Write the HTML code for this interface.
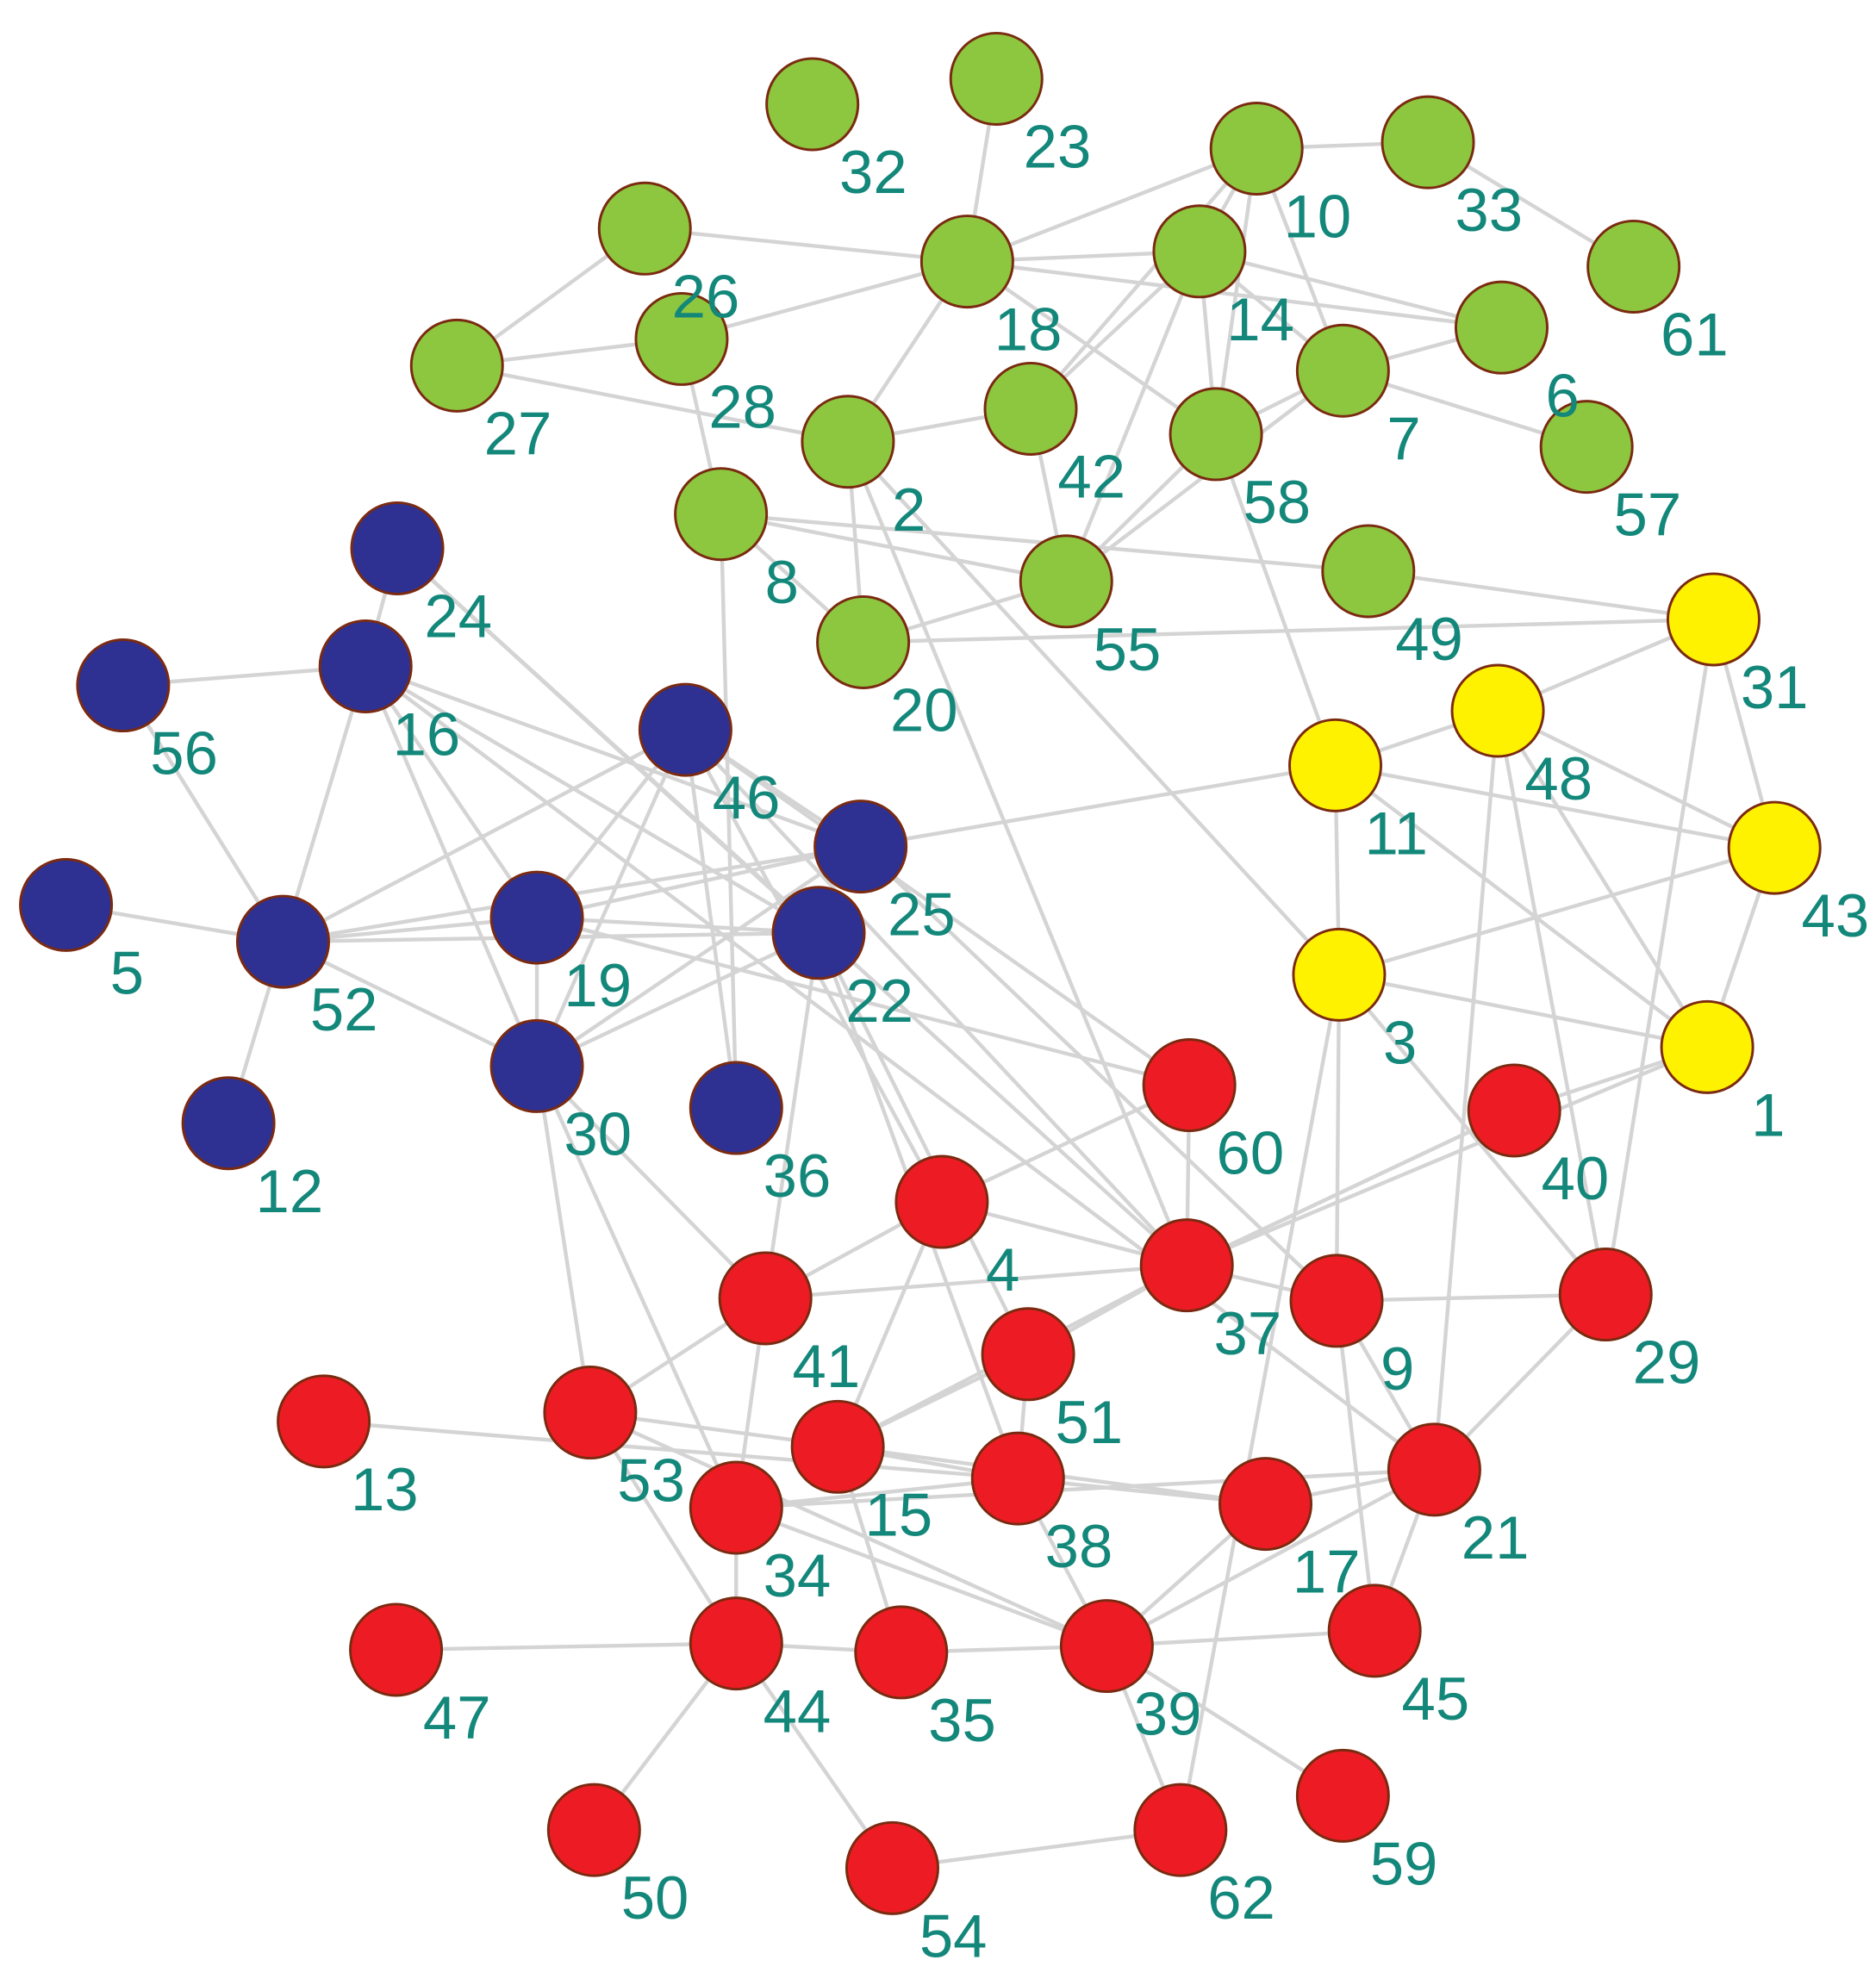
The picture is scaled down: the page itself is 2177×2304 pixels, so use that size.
<!DOCTYPE html>
<html><head><meta charset="utf-8"><style>
html,body{margin:0;padding:0;background:#fff;}
svg{display:block;}
text{font-family:"Liberation Sans",Arial,sans-serif;font-size:48px;fill:#12877a;}
</style></head><body>
<svg width="2177" height="2304" viewBox="0 0 1478 1564" xmlns="http://www.w3.org/2000/svg">
<g id="edges" stroke="#d4d4d4" stroke-width="3"></g>
<g id="nodes" stroke="#7a2a10" stroke-width="2"></g>
<g id="labels"></g>
<script>
var N={32:[640,82,'g'],23:[785,62,'g'],10:[990,117,'g'],33:[1125,112,'g'],61:[1287,210,'g'],26:[508,180,'g'],18:[762,206,'g'],14:[945,198,'g'],6:[1183,258,'g'],28:[537,267,'g'],27:[360,288,'g'],7:[1058,292,'g'],42:[812,322,'g'],58:[958,342,'g'],57:[1250,352,'g'],2:[668,348,'g'],8:[568,405,'g'],55:[840,458,'g'],49:[1078,450,'g'],20:[680,506,'g'],
31:[1350,488,'y'],48:[1180,560,'y'],11:[1052,603,'y'],43:[1398,668,'y'],3:[1055,768,'y'],1:[1345,825,'y'],
24:[313,432,'b'],16:[288,525,'b'],56:[97,540,'b'],46:[540,575,'b'],25:[678,667,'b'],5:[52,713,'b'],52:[223,742,'b'],19:[423,723,'b'],22:[645,735,'b'],30:[423,840,'b'],36:[580,873,'b'],12:[180,885,'b'],
60:[937,855,'r'],40:[1193,875,'r'],4:[742,947,'r'],37:[935,997,'r'],9:[1053,1025,'r'],29:[1265,1020,'r'],41:[603,1023,'r'],51:[810,1067,'r'],13:[255,1120,'r'],53:[465,1113,'r'],15:[660,1140,'r'],38:[802,1165,'r'],17:[997,1185,'r'],21:[1130,1158,'r'],34:[580,1188,'r'],47:[312,1300,'r'],44:[580,1295,'r'],35:[710,1302,'r'],39:[872,1297,'r'],45:[1083,1285,'r'],59:[1058,1415,'r'],50:[468,1442,'r'],62:[930,1442,'r'],54:[703,1472,'r']};
var E="23-18 26-18 26-27 27-28 28-18 27-2 28-8 8-36 18-2 18-10 18-14 18-6 18-58 10-33 10-14 10-7 10-42 10-58 14-42 14-55 14-58 14-7 14-6 33-61 6-7 7-58 7-55 7-57 42-55 42-2 58-55 58-11 2-20 2-3 2-37 8-55 8-20 8-49 55-20 20-31 49-31 31-48 31-43 31-29 48-11 48-43 48-1 48-29 48-21 11-43 11-3 11-1 11-25 43-3 43-1 3-1 3-29 3-9 3-62 1-37 1-40 40-37 24-16 24-22 16-56 16-52 16-19 16-30 16-25 16-22 56-52 5-52 52-12 52-19 52-46 52-25 52-22 52-30 19-46 19-25 19-22 19-30 19-60 46-30 46-36 46-25 46-4 25-30 22-30 22-41 22-38 22-51 24-37 30-53 30-34 30-41 46-60 60-37 60-4 4-41 4-37 4-15 41-37 41-34 41-53 37-51 37-15 37-9 37-40 9-29 9-21 9-45 29-21 21-17 21-39 21-45 17-38 17-39 17-53 13-38 53-39 15-38 15-35 15-51 38-39 38-34 51-38 34-44 34-21 34-39 44-47 44-35 44-50 44-54 44-53 35-39 39-45 39-59 39-62 62-54 25-9 16-21 46-37";
var ns="http://www.w3.org/2000/svg",ge=document.getElementById('edges'),gn=document.getElementById('nodes'),gl=document.getElementById('labels');
E.split(' ').forEach(function(p){var a=p.split('-'),A=N[a[0]],B=N[a[1]];if(!A||!B)return;var l=document.createElementNS(ns,'line');l.setAttribute('x1',A[0]);l.setAttribute('y1',A[1]);l.setAttribute('x2',B[0]);l.setAttribute('y2',B[1]);ge.appendChild(l);});
var C={g:'#8dc63f',y:'#fff200',b:'#2e3192',r:'#ed1c24'};
for(var k in N){var n=N[k];var c=document.createElementNS(ns,'circle');c.setAttribute('cx',n[0]);c.setAttribute('cy',n[1]);c.setAttribute('r',36);c.setAttribute('fill',C[n[2]]);gn.appendChild(c);
var t=document.createElementNS(ns,'text');t.setAttribute('x',n[0]+48);t.setAttribute('y',n[1]+70);t.setAttribute('text-anchor','middle');t.textContent=k;gl.appendChild(t);}
</script>
</svg>
</body></html>
